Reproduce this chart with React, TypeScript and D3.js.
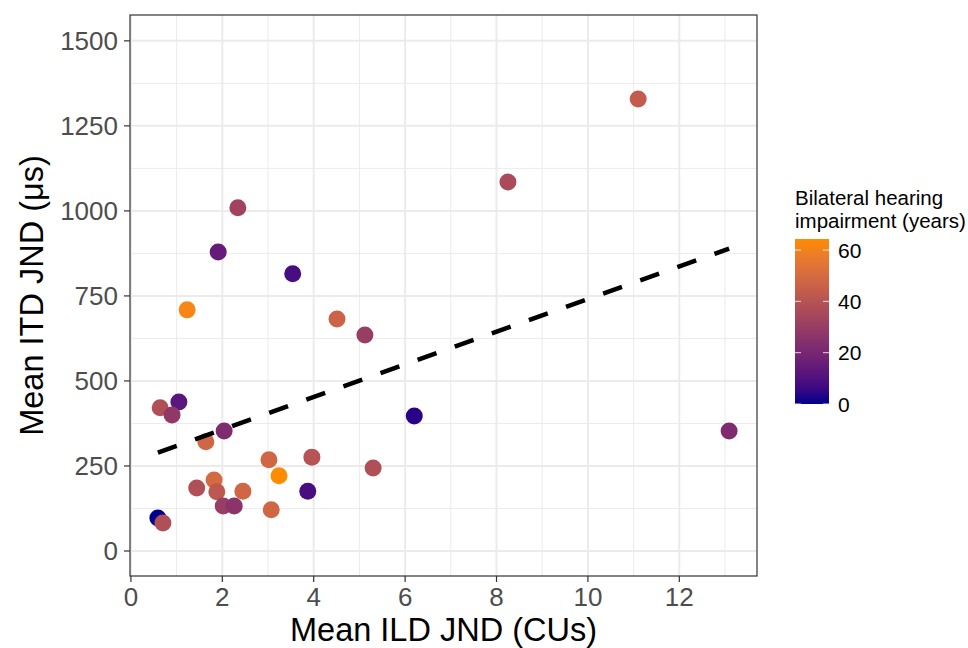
import React from "react";
import * as d3 from "d3";

// Mean ILD JND (CUs), mean ITD JND (µs), bilateral hearing impairment (years)
const ildJnd = [
  11.1, 8.25, 2.34, 1.91, 3.54, 1.23, 4.51, 5.12, 6.2, 1.05, 0.64, 0.9, 2.04, 1.64, 13.09,
  3.02, 3.96, 5.3, 3.24, 1.82, 1.44, 1.88, 2.45, 3.87, 2.02, 2.26, 3.07, 0.59, 0.7,
];
const itdJnd = [
  1329, 1085, 1009, 879, 815, 709, 682, 635, 397, 438, 421, 400, 353, 321, 353,
  268, 276, 244, 221, 209, 185, 174, 176, 176, 132, 132, 121, 97, 82,
];
const impairYears = [
  44, 36, 33, 15, 8, 62, 47, 30, 3, 12, 38, 28, 22, 48, 22,
  48, 40, 38, 64.3, 50, 38, 42, 48, 8, 30, 26, 48, 0, 38,
];

const xTicks = [0, 2, 4, 6, 8, 10, 12];
const yTicks = [0, 250, 500, 750, 1000, 1250, 1500];
const legendTicks = [0, 20, 40, 60];

const W = 968;
const H = 648;
const panel = { left: 130, right: 757, top: 15, bottom: 576 };
const font = "'Liberation Sans', Arial, Helvetica, sans-serif";

export default function App() {
  const x = d3.scaleLinear().domain([-0.02, 13.7]).range([panel.left, panel.right]);
  const y = d3.scaleLinear().domain([-73.5, 1576]).range([panel.bottom, panel.top]);
  const cMax = d3.max(impairYears) as number;
  const color = d3
    .scaleLinear<string>()
    .domain([0, cMax])
    .range(["#00008B", "#FF8C00"])
    .interpolate(d3.interpolateLab);

  const pts = ildJnd.map((v, i) => ({ x: v, y: itdJnd[i], c: impairYears[i] }));

  // linear fit (geom_smooth lm)
  const mx = d3.mean(pts, (d) => d.x) as number;
  const my = d3.mean(pts, (d) => d.y) as number;
  const sxy = d3.sum(pts, (d) => (d.x - mx) * (d.y - my));
  const sxx = d3.sum(pts, (d) => (d.x - mx) ** 2);
  const slope = sxy / sxx;
  const icpt = my - slope * mx;
  const [x0, x1] = d3.extent(ildJnd) as [number, number];
  const fitLine = d3.line<number>().x((d) => x(d)).y((d) => y(icpt + slope * d));

  const minorX = d3.range(1, 14, 2);
  const minorY = [125, 375, 625, 875, 1125, 1375];

  // legend colourbar
  const barTop = 239;
  const barBottom = 404;
  const cb = d3.scaleLinear().domain([0, cMax]).range([barBottom, barTop]);
  const barX = 795;
  const barW = 34;
  const stops = d3.range(0, 1.0001, 0.1);

  return (
    <svg width={W} height={H} style={{ position: "absolute", left: 0, top: 0 }}>
      <rect width={W} height={H} fill="#fff" />
      <defs>
        <linearGradient id="cbar" x1="0" y1="1" x2="0" y2="0">
          {stops.map((s) => (
            <stop key={s} offset={s} stopColor={color(s * cMax)} />
          ))}
        </linearGradient>
        <clipPath id="pclip">
          <rect x={panel.left} y={panel.top} width={panel.right - panel.left} height={panel.bottom - panel.top} />
        </clipPath>
      </defs>

      {/* grid */}
      <g>
        {minorX.map((t) => (
          <line key={"mx" + t} x1={x(t)} x2={x(t)} y1={panel.top} y2={panel.bottom} stroke="#EBEBEB" strokeWidth={1} />
        ))}
        {minorY.map((t) => (
          <line key={"my" + t} y1={y(t)} y2={y(t)} x1={panel.left} x2={panel.right} stroke="#EBEBEB" strokeWidth={1} />
        ))}
        {xTicks.map((t) => (
          <line key={"gx" + t} x1={x(t)} x2={x(t)} y1={panel.top} y2={panel.bottom} stroke="#EBEBEB" strokeWidth={2} />
        ))}
        {yTicks.map((t) => (
          <line key={"gy" + t} y1={y(t)} y2={y(t)} x1={panel.left} x2={panel.right} stroke="#EBEBEB" strokeWidth={2} />
        ))}
      </g>

      {/* points */}
      <g clipPath="url(#pclip)">
        {pts.map((d, i) => (
          <circle key={i} cx={x(d.x)} cy={y(d.y)} r={8.5} fill={color(d.c)} />
        ))}
        <path
          d={fitLine([x0, x1]) as string}
          fill="none"
          stroke="#000"
          strokeWidth={4.5}
          strokeDasharray="20,19.4"
        />
      </g>

      <rect
        x={panel.left}
        y={panel.top}
        width={panel.right - panel.left}
        height={panel.bottom - panel.top}
        fill="none"
        stroke="#333"
        strokeWidth={1.2}
      />

      {/* axes */}
      <g fontFamily={font} fontSize={26} fill="#4D4D4D">
        {xTicks.map((t) => (
          <g key={"xt" + t}>
            <line x1={x(t)} x2={x(t)} y1={panel.bottom} y2={panel.bottom + 6} stroke="#333" strokeWidth={1.2} />
            <text x={x(t)} y={606} textAnchor="middle">{t}</text>
          </g>
        ))}
        {yTicks.map((t) => (
          <g key={"yt" + t}>
            <line x1={panel.left - 6} x2={panel.left} y1={y(t)} y2={y(t)} stroke="#333" strokeWidth={1.2} />
            <text x={118} y={y(t)} dy="0.36em" textAnchor="end">{t}</text>
          </g>
        ))}
      </g>

      <text x={(panel.left + panel.right) / 2} y={641} textAnchor="middle" fontFamily={font} fontSize={32.5} fill="#000">
        Mean ILD JND (CUs)
      </text>
      <text
        transform={`translate(43,${(panel.top + panel.bottom) / 2}) rotate(-90)`}
        textAnchor="middle"
        fontFamily={font}
        fontSize={32.5}
        fill="#000"
      >
        Mean ITD JND (μs)
      </text>

      {/* legend */}
      <g fontFamily={font} fill="#000">
        <text x={barX} y={205} fontSize={20.5}>Bilateral hearing</text>
        <text x={barX} y={228} fontSize={20.5}>impairment (years)</text>
        <rect x={barX} y={barTop} width={barW} height={barBottom - barTop} fill="url(#cbar)" />
        {legendTicks.map((t) => (
          <g key={"lt" + t}>
            <line x1={barX} x2={barX + 6} y1={cb(t)} y2={cb(t)} stroke="#fff" strokeOpacity={0.8} strokeWidth={1} />
            <line x1={barX + barW - 6} x2={barX + barW} y1={cb(t)} y2={cb(t)} stroke="#fff" strokeOpacity={0.8} strokeWidth={1} />
            <text x={838} y={cb(t)} dy="0.36em" fontSize={21}>{t}</text>
          </g>
        ))}
      </g>
    </svg>
  );
}
